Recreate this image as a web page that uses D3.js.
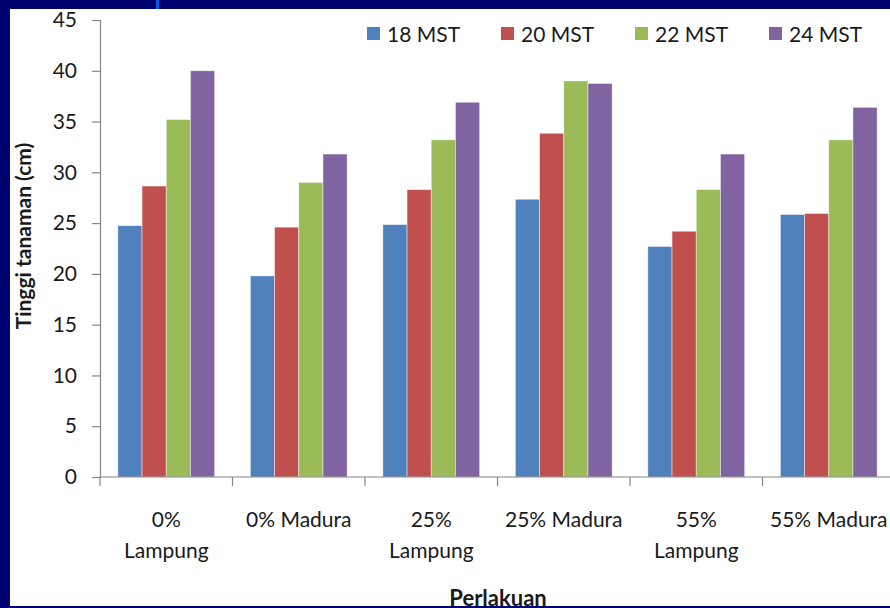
<!DOCTYPE html>
<html>
<head>
<meta charset="utf-8">
<script src="https://cdn.jsdelivr.net/npm/d3@7"></script>
<style>
  html, body { margin: 0; padding: 0; background: #000070; overflow: hidden; }
  svg { display: block; }
  text { font-family: Lato, "Open Sans", sans-serif; fill: #1a1a1a; }
</style>
</head>
<body>
<script>
// Plant height (cm) per treatment, measured at four weeks after planting
const categories = [["0%", "Lampung"], ["0% Madura"], ["25%", "Lampung"], ["25% Madura"], ["55%", "Lampung"], ["55% Madura"]];
const seriesNames = ["18 MST", "20 MST", "22 MST", "24 MST"];
const seriesColors = ["#4F81BD", "#C0504D", "#9BBB59", "#8064A2"];
const mst18 = [24.75, 19.8, 24.85, 27.35, 22.7, 25.85];
const mst20 = [28.65, 24.6, 28.3, 33.85, 24.2, 25.95];
const mst22 = [35.2, 29.0, 33.2, 39.0, 28.3, 33.2];
const mst24 = [40.0, 31.8, 36.9, 38.75, 31.8, 36.4];
const yTicks = [0, 5, 10, 15, 20, 25, 30, 35, 40, 45];
const yTitle = "Tinggi tanaman (cm)";
const xTitle = "Perlakuan";

const series = [mst18, mst20, mst22, mst24];
const W = 890, H = 608;

const svg = d3.select("body").append("svg").attr("width", W).attr("height", H);

// slide frame
svg.append("rect").attr("x", 0).attr("y", 0).attr("width", W).attr("height", H).attr("fill", "#000070");
svg.append("rect").attr("x", 10).attr("y", 9).attr("width", W - 10).attr("height", 597).attr("fill", "#ffffff");
svg.append("rect").attr("x", 156).attr("y", 0).attr("width", 3).attr("height", 9).attr("fill", "#0a5ae8");

const x0 = d3.scaleBand().domain(d3.range(categories.length)).range([100, 895]).paddingInner(0).paddingOuter(0);
const bandW = x0.bandwidth();
const barW = 24.2;
const groupW = barW * seriesNames.length;
const y = d3.scaleLinear().domain([0, 45]).range([477, 20]);

// bars
series.forEach((vals, s) => {
  svg.append("g").selectAll("rect").data(vals).join("rect")
    .attr("x", (d, i) => x0(i) + (bandW - groupW) / 2 + s * barW)
    .attr("y", d => y(d))
    .attr("width", barW)
    .attr("height", d => y(0) - y(d))
    .attr("fill", seriesColors[s])
    .attr("stroke", "rgba(255,255,255,0.55)")
    .attr("stroke-width", 0.8);
});

// y axis
const yAxis = svg.append("g").attr("transform", "translate(100,0)")
  .call(d3.axisLeft(y).tickValues(yTicks).tickSize(8).tickPadding(15));
yAxis.select(".domain").attr("stroke", "#868686").attr("stroke-width", 1.2);
yAxis.selectAll(".tick line").attr("stroke", "#868686").attr("stroke-width", 1.2);
yAxis.selectAll(".tick text").attr("font-size", 21).attr("font-family", "Lato, sans-serif").attr("fill", "#1a1a1a");

// x axis: baseline and ticks at category boundaries
const xAxis = svg.append("g").attr("transform", "translate(0,477)");
xAxis.append("line").attr("x1", 100).attr("x2", 895).attr("y1", 0).attr("y2", 0)
  .attr("stroke", "#868686").attr("stroke-width", 1.2);
xAxis.selectAll("line.tk").data(d3.range(categories.length + 1)).join("line")
  .attr("class", "tk")
  .attr("x1", i => 100 + i * bandW).attr("x2", i => 100 + i * bandW)
  .attr("y1", 0).attr("y2", 9)
  .attr("stroke", "#868686").attr("stroke-width", 1.2);

// category labels
const lbl = svg.append("g").selectAll("text").data(categories).join("text")
  .attr("text-anchor", "middle")
  .attr("font-size", 21)
  .attr("transform", (d, i) => `translate(${x0(i) + bandW / 2},527)`);
lbl.selectAll("tspan").data(d => d).join("tspan")
  .attr("x", 0).attr("dy", (d, j) => j === 0 ? 0 : 31).text(d => d);

// axis titles
svg.append("text").attr("text-anchor", "middle").attr("font-size", 21).attr("font-weight", "bold")
  .attr("transform", "translate(31,236) rotate(-90)").text(yTitle);
svg.append("text").attr("text-anchor", "middle").attr("font-size", 22).attr("font-weight", "bold")
  .attr("x", 498).attr("y", 606).text(xTitle);

// re-draw bottom frame line over the title
svg.append("rect").attr("x", 0).attr("y", 606).attr("width", W).attr("height", 2).attr("fill", "#000070");

// legend
const leg = svg.append("g").selectAll("g").data(seriesNames).join("g")
  .attr("transform", (d, i) => `translate(${367 + i * 134},27)`);
leg.append("rect").attr("width", 13).attr("height", 13).attr("fill", (d, i) => seriesColors[i]);
leg.append("text").attr("x", 20).attr("y", 14.5).attr("font-size", 21).text(d => d);
</script>
</body>
</html>
